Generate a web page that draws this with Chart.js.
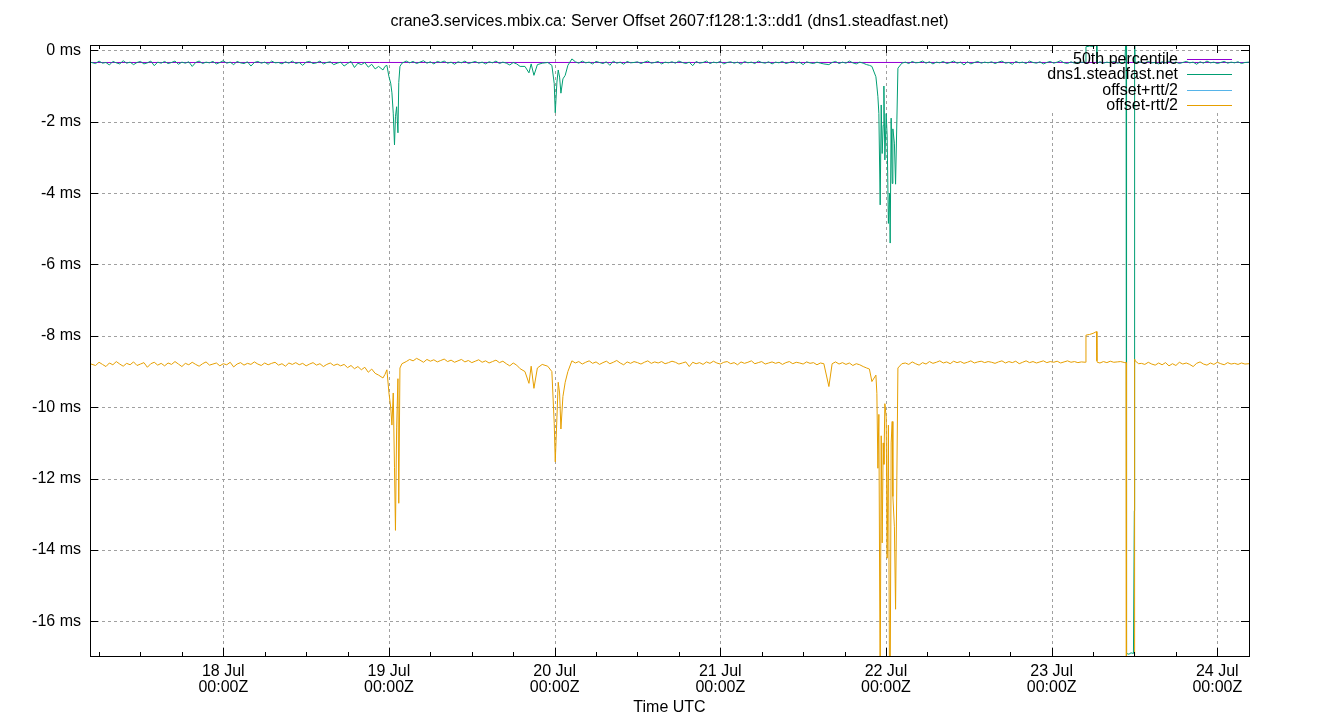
<!DOCTYPE html>
<html>
<head>
<meta charset="utf-8">
<script src="https://cdn.jsdelivr.net/npm/chart.js@4.4.1/dist/chart.umd.min.js"></script>
<style>
  html, body { margin: 0; padding: 0; background: #fff; }
  canvas { display: block; }
</style>
</head>
<body>
<canvas id="offsetChart" width="1340" height="720"></canvas>
<script>
const chartTitle = 'crane3.services.mbix.ca: Server Offset 2607:f128:1:3::dd1 (dns1.steadfast.net)';
const axisTitle = 'Time UTC';
const seriesNames = ['50th percentile', 'dns1.steadfast.net', 'offset+rtt/2', 'offset-rtt/2'];
const seriesColors = ['#9400d3', '#009e73', '#56b4e9', '#e69f00'];

// x = hours since 17 Jul 00:00Z
const hours = [
  4.7,5.5,6,6.5,7,7.5,8,8.5,9,9.5,10,10.5,
  11,11.5,12,12.5,13,13.5,14,14.5,15,15.5,16,16.5,
  17,17.5,18,18.5,19,19.5,20,20.5,21,21.5,22,22.5,
  23,23.5,24,24.5,25,25.5,26,26.5,27,27.5,28,28.5,
  29,29.5,30,30.5,31,31.5,32,32.5,33,33.5,34,34.5,
  35,35.5,36,36.5,37,37.5,38,38.5,39,39.5,40,40.5,
  41,41.5,42,42.5,43,43.5,44,44.5,45,45.5,46,46.5,
  47.13,47.42,47.7,48.0,48.25,48.43,48.62,48.8,48.94,49.11,49.3,49.42,49.59,49.88,
  50.5,51,51.5,52,52.5,53,53.5,54,54.5,55,55.5,56,
  56.5,57,57.5,58,58.5,59,59.5,60,60.5,61,61.5,62,
  62.5,63,63.5,64,64.5,65,65.5,66,66.5,67,
  67.7,68.28,68.6,69.0,69.5,70.2,71.0,71.6,71.94,72.09,72.33,72.52,72.72,72.91,73.2,73.53,73.92,74.5,
  75,75.5,76,76.5,77,77.5,78,78.5,79,79.5,80,80.5,
  81,81.5,82,82.5,83,83.5,84,84.5,85,85.5,86,86.5,
  87,87.5,88,88.5,89,89.5,90,90.5,91,91.5,92,92.5,
  93,93.5,94,94.5,95,95.5,96,96.5,97,97.5,98,98.5,
  99,99.5,100,100.5,101,101.5,102,102.5,103,103.5,104,104.5,
  105,105.5,106,106.5,107,107.5,108,108.5,109,109.5,110,110.5,
  111,
  111.73,112.2,112.7,113.2,113.7,114.2,114.7,115.2,115.7,116.2,116.7,117.2,117.6,
  117.96,118.54,118.68,118.83,118.97,119.16,119.31,119.45,119.6,119.7,119.84,120.03,
  120.17,120.35,120.52,120.61,120.75,120.9,121.0,121.22,121.39,121.58,121.73,122.3,
  122.8,123.3,123.8,124.3,124.8,125.3,125.8,126.3,126.8,127.3,127.8,128.3,128.8,
  129.3,129.8,130.3,130.8,131.3,131.8,132.3,132.8,133.3,133.8,134.3,134.8,135.3,
  135.8,136.3,136.8,137.3,137.8,138.3,138.8,139.3,139.8,140.3,140.8,141.3,141.8,
  142.3,142.8,143.3,143.8,144.3,144.8,145.3,145.8,146.3,146.8,147.3,147.8,148.3,
  148.9,148.97,149.5,150.0,150.5,150.56,150.62,
  151,151.5,152,152.5,153,153.5,154,
  154.6,154.78,154.85,155.2,155.5,155.85,155.98,156.02,156.1,156.6,
  157,157.5,158,158.5,159,159.5,160,160.5,161,161.5,162,162.5,
  163,163.5,164,164.5,165,165.5,166,166.5,167,167.5,168,168.5,
  169,169.5,170,170.5,171,171.5,172,172.59
];

// dns1.steadfast.net offset, ms
const offsetMs = [
  -0.33,-0.37,-0.30,-0.36,-0.34,-0.41,-0.31,-0.35,-0.38,-0.29,-0.36,-0.33,
  -0.40,-0.34,-0.31,-0.38,-0.35,-0.30,-0.43,-0.33,-0.36,-0.31,-0.37,-0.34,
  -0.30,-0.39,-0.33,-0.36,-0.32,-0.45,-0.34,-0.30,-0.37,-0.33,-0.35,-0.31,
  -0.38,-0.34,-0.29,-0.36,-0.33,-0.40,-0.31,-0.35,-0.37,-0.32,-0.44,-0.34,
  -0.31,-0.36,-0.33,-0.39,-0.30,-0.35,-0.34,-0.38,-0.32,-0.36,-0.30,-0.37,
  -0.34,-0.42,-0.33,-0.31,-0.37,-0.35,-0.30,-0.38,-0.34,-0.32,-0.40,-0.36,
  -0.33,-0.44,-0.37,-0.31,-0.48,-0.36,-0.40,-0.34,-0.47,-0.39,-0.52,-0.45,
  -0.55,-0.45,-0.42,-0.74,-0.92,-1.19,-1.76,-2.65,-1.86,-1.58,-2.31,-0.90,-0.45,-0.36,
  -0.30,-0.35,-0.31,-0.37,-0.33,-0.29,-0.36,-0.32,-0.38,-0.31,-0.34,-0.30,
  -0.36,-0.33,-0.39,-0.32,-0.35,-0.30,-0.37,-0.34,-0.31,-0.36,-0.33,-0.38,
  -0.32,-0.35,-0.30,-0.37,-0.33,-0.36,-0.41,-0.34,-0.38,-0.45,
  -0.45,-0.63,-0.38,-0.70,-0.40,-0.36,-0.34,-0.42,-0.93,-1.75,-0.89,-0.55,-0.75,-1.20,-0.80,-0.70,-0.42,-0.24,
  -0.32,-0.36,-0.30,-0.35,-0.33,-0.38,-0.31,-0.34,-0.37,-0.32,-0.42,-0.30,
  -0.36,-0.33,-0.39,-0.31,-0.35,-0.34,-0.32,-0.37,-0.33,-0.30,-0.36,-0.34,
  -0.31,-0.38,-0.33,-0.35,-0.32,-0.36,-0.30,-0.34,-0.37,-0.33,-0.43,-0.31,
  -0.36,-0.34,-0.30,-0.37,-0.33,-0.35,-0.31,-0.38,-0.34,-0.32,-0.36,-0.33,
  -0.39,-0.31,-0.35,-0.33,-0.37,-0.30,-0.34,-0.36,-0.32,-0.38,-0.33,-0.35,
  -0.31,-0.37,-0.34,-0.30,-0.36,-0.33,-0.40,-0.32,-0.35,-0.37,-0.33,-0.36,
  -0.38,
  -0.40,-0.34,-0.31,-0.37,-0.33,-0.36,-0.30,-0.35,-0.38,-0.33,-0.36,-0.40,-0.42,
  -0.45,-0.74,-1.00,-1.30,-1.77,-4.33,-1.53,-2.89,-2.10,-1.00,-3.07,-1.77,
  -2.40,-4.85,-4.00,-5.40,-1.90,-3.73,-2.20,-2.60,-3.75,-1.95,-0.50,-0.36,
  -0.33,-0.37,-0.31,-0.35,-0.34,-0.30,-0.36,-0.32,-0.38,-0.33,-0.35,-0.31,-0.37,
  -0.34,-0.30,-0.36,-0.33,-0.41,-0.32,-0.38,-0.34,-0.31,-0.36,-0.33,-0.35,-0.32,
  -0.37,-0.33,-0.30,-0.36,-0.34,-0.39,-0.31,-0.35,-0.33,-0.37,-0.30,-0.34,-0.36,
  -0.32,-0.38,-0.34,-0.31,-0.36,-0.33,-0.29,-0.35,-0.37,-0.32,-0.36,-0.34,-0.33,
  -0.34,0.10,0.12,0.11,0.15,-0.33,-0.36,
  -0.32,-0.36,-0.33,-0.35,-0.31,-0.36,-0.34,
  -0.34,0.40,-16.90,-16.92,-16.88,-16.90,-12.90,0.40,-0.34,-0.33,
  -0.33,-0.36,-0.31,-0.35,-0.34,-0.38,-0.32,-0.35,-0.30,-0.36,-0.33,-0.37,
  -0.34,-0.31,-0.35,-0.33,-0.39,-0.32,-0.36,-0.30,-0.35,-0.33,-0.37,-0.34,
  -0.31,-0.36,-0.33,-0.35,-0.32,-0.37,-0.34,-0.33
];

// offset - rtt/2, ms
const lowMs = [
  -8.78,-8.83,-8.74,-8.80,-8.86,-8.76,-8.81,-8.72,-8.79,-8.85,-8.77,-8.81,
  -8.73,-8.83,-8.79,-8.75,-8.88,-8.78,-8.74,-8.82,-8.77,-8.84,-8.76,-8.80,
  -8.72,-8.79,-8.86,-8.77,-8.81,-8.74,-8.80,-8.85,-8.78,-8.73,-8.82,-8.79,
  -8.76,-8.84,-8.78,-8.81,-8.74,-8.87,-8.79,-8.75,-8.82,-8.77,-8.80,-8.73,
  -8.79,-8.83,-8.76,-8.81,-8.77,-8.74,-8.82,-8.78,-8.85,-8.76,-8.80,-8.75,
  -8.81,-8.77,-8.84,-8.79,-8.75,-8.82,-8.78,-8.86,-8.80,-8.76,-8.83,-8.79,
  -8.84,-8.80,-8.89,-8.83,-8.92,-8.86,-8.95,-8.88,-9.02,-8.93,-9.05,-9.10,
  -9.18,-9.08,-8.95,-9.60,-10.00,-10.50,-9.60,-11.68,-13.45,-10.58,-9.20,-12.69,-8.90,-8.78,
  -8.72,-8.66,-8.70,-8.63,-8.68,-8.74,-8.66,-8.71,-8.67,-8.73,-8.69,-8.65,
  -8.72,-8.68,-8.74,-8.70,-8.66,-8.73,-8.69,-8.75,-8.71,-8.67,-8.74,-8.70,
  -8.76,-8.72,-8.68,-8.75,-8.71,-8.78,-8.84,-8.76,-8.82,-8.92,
  -9.00,-9.33,-8.85,-9.47,-8.90,-8.80,-8.85,-9.00,-10.45,-11.53,-10.30,-9.30,-9.60,-10.61,-9.70,-9.30,-9.00,-8.70,
  -8.76,-8.72,-8.79,-8.74,-8.70,-8.77,-8.73,-8.80,-8.75,-8.71,-8.78,-8.74,
  -8.69,-8.76,-8.81,-8.73,-8.77,-8.72,-8.75,-8.79,-8.74,-8.70,-8.77,-8.73,
  -8.76,-8.72,-8.78,-8.75,-8.71,-8.74,-8.79,-8.76,-8.73,-8.86,-8.74,-8.78,
  -8.75,-8.80,-8.73,-8.77,-8.71,-8.76,-8.79,-8.74,-8.72,-8.78,-8.75,-8.81,
  -8.73,-8.77,-8.74,-8.70,-8.78,-8.75,-8.72,-8.79,-8.76,-8.73,-8.77,-8.74,
  -8.80,-8.75,-8.72,-8.78,-8.74,-8.76,-8.79,-8.73,-8.77,-8.75,-8.81,-8.76,
  -8.78,
  -9.42,-8.78,-8.73,-8.79,-8.75,-8.80,-8.76,-8.83,-8.78,-8.81,-8.86,-8.90,-8.93,
  -9.28,-9.10,-9.61,-11.71,-10.20,-18.00,-10.80,-13.80,-11.00,-11.60,-9.90,-10.27,
  -14.23,-10.50,-18.00,-18.00,-11.00,-10.40,-12.50,-13.35,-15.66,-11.90,-8.90,-8.78,
  -8.76,-8.80,-8.73,-8.78,-8.82,-8.75,-8.79,-8.72,-8.77,-8.74,-8.70,-8.76,-8.73,
  -8.78,-8.71,-8.75,-8.72,-8.77,-8.74,-8.70,-8.76,-8.73,-8.71,-8.75,-8.72,-8.74,
  -8.77,-8.73,-8.70,-8.76,-8.72,-8.75,-8.71,-8.78,-8.74,-8.70,-8.75,-8.72,-8.76,
  -8.73,-8.70,-8.75,-8.72,-8.74,-8.71,-8.76,-8.73,-8.70,-8.74,-8.72,-8.75,-8.73,
  -8.74,-7.98,-7.96,-7.93,-7.88,-8.70,-8.74,
  -8.76,-8.72,-8.75,-8.71,-8.74,-8.73,-8.72,
  -8.75,-8.75,-40,-40,-40,-40,-40,-8.65,-8.70,-8.78,
  -8.77,-8.80,-8.74,-8.79,-8.82,-8.76,-8.81,-8.75,-8.84,-8.78,-8.83,-8.74,
  -8.79,-8.76,-8.80,-8.86,-8.77,-8.73,-8.79,-8.82,-8.76,-8.80,-8.74,-8.78,
  -8.81,-8.75,-8.79,-8.77,-8.80,-8.76,-8.79,-8.78
];

// offset + rtt/2 (mirror of the low edge around the offset; stays above the plot)
const highMs = offsetMs.map((v, i) => 2 * v - lowMs[i]);

const p50Hours = [4.69, 172.59];
const p50Ms = [-0.34, -0.34];

const sixHourTicks = [6,12,18,24,30,36,42,48,54,60,66,72,78,84,90,96,102,108,114,120,126,132,138,144,150,156,162,168];
const dayTicks = [24, 48, 72, 96, 120, 144, 168];
const dayLabels = ['18 Jul', '19 Jul', '20 Jul', '21 Jul', '22 Jul', '23 Jul', '24 Jul'];
const yTicks = [-16, -14, -12, -10, -8, -6, -4, -2, 0];

const FONT = 'Liberation Sans, Arial, sans-serif';
const keyBox = { left: 1040, bottom: 113 };

const pts = (xs, ys) => xs.map((x, i) => ({ x: x, y: ys[i] }));

const gnuplotFrame = {
  id: 'gnuplotFrame',
  beforeDatasetsDraw(chart) {
    const { ctx, chartArea: a, scales: { x, y } } = chart;
    ctx.save();
    ctx.strokeStyle = '#a0a0a0';
    ctx.lineWidth = 1;
    ctx.setLineDash([3, 3]);
    ctx.beginPath();
    yTicks.forEach(v => {
      const py = Math.round(y.getPixelForValue(v)) + 0.5;
      ctx.moveTo(a.left, py);
      ctx.lineTo(a.right, py);
    });
    dayTicks.forEach(v => {
      const px = Math.round(x.getPixelForValue(v)) + 0.5;
      ctx.moveTo(px, a.bottom);
      ctx.lineTo(px, px > keyBox.left ? keyBox.bottom : a.top);
    });
    ctx.stroke();
    ctx.restore();
  },
  afterDraw(chart) {
    const { ctx, chartArea: a, scales: { x, y } } = chart;
    ctx.save();
    ctx.strokeStyle = '#000';
    ctx.lineWidth = 1;
    ctx.beginPath();
    sixHourTicks.forEach(v => {
      const px = Math.round(x.getPixelForValue(v)) + 0.5;
      const len = dayTicks.includes(v) ? 8 : 4;
      ctx.moveTo(px, a.bottom); ctx.lineTo(px, a.bottom - len);
      ctx.moveTo(px, a.top); ctx.lineTo(px, a.top + len);
    });
    yTicks.forEach(v => {
      const py = Math.round(y.getPixelForValue(v)) + 0.5;
      ctx.moveTo(a.left, py); ctx.lineTo(a.left + 8, py);
      ctx.moveTo(a.right, py); ctx.lineTo(a.right - 8, py);
    });
    ctx.stroke();
    ctx.strokeRect(a.left + 0.5, a.top + 0.5, a.right - a.left, a.bottom - a.top);

    ctx.fillStyle = '#000';
    ctx.font = '16px ' + FONT;
    ctx.textBaseline = 'middle';
    ctx.textAlign = 'center';
    ctx.fillText(chartTitle, (a.left + a.right) / 2, 22);
    ctx.fillText(axisTitle, (a.left + a.right) / 2, 708);

    // key
    ctx.textAlign = 'right';
    seriesNames.forEach((name, i) => {
      const ky = Math.round(59 + i * 15.3);
      ctx.fillStyle = '#000';
      ctx.fillText(name, 1178, ky + 1);
      ctx.strokeStyle = seriesColors[i];
      ctx.beginPath();
      ctx.moveTo(1187, ky + 0.5);
      ctx.lineTo(1232, ky + 0.5);
      ctx.stroke();
    });
    ctx.restore();
  }
};

const lineSet = (i, data, order) => ({
  label: seriesNames[i],
  data: data,
  borderColor: seriesColors[i],
  backgroundColor: seriesColors[i],
  borderWidth: 1,
  pointRadius: 0,
  tension: 0,
  fill: false,
  order: order
});

new Chart(document.getElementById('offsetChart'), {
  type: 'line',
  data: {
    datasets: [
      lineSet(0, pts(p50Hours, p50Ms), 4),
      lineSet(1, pts(hours, offsetMs), 3),
      lineSet(2, pts(hours, highMs), 2),
      lineSet(3, pts(hours, lowMs), 1)
    ]
  },
  options: {
    responsive: false,
    animation: false,
    devicePixelRatio: 1,
    layout: { padding: { top: 45, right: 91, left: 0, bottom: 0 } },
    plugins: { legend: { display: false }, tooltip: { enabled: false }, title: { display: false } },
    scales: {
      x: {
        type: 'linear',
        min: 4.69,
        max: 172.59,
        afterBuildTicks: s => { s.ticks = sixHourTicks.map(v => ({ value: v })); },
        afterFit: s => { s.height = 64; },
        grid: { display: false, drawTicks: false },
        border: { display: false },
        ticks: {
          autoSkip: false,
          maxRotation: 0,
          padding: 8,
          color: '#000',
          font: { family: FONT, size: 16, lineHeight: 1 },
          callback: v => {
            const i = dayTicks.indexOf(v);
            return i < 0 ? '' : [dayLabels[i], '00:00Z'];
          }
        }
      },
      y: {
        min: -16.97,
        max: 0.15,
        afterBuildTicks: s => { s.ticks = yTicks.map(v => ({ value: v })); },
        afterFit: s => { s.width = 90; },
        grid: { display: false, drawTicks: false },
        border: { display: false },
        ticks: {
          padding: 9,
          color: '#000',
          font: { family: FONT, size: 16 },
          callback: v => v + ' ms'
        }
      }
    }
  },
  plugins: [gnuplotFrame]
});
</script>
</body>
</html>
